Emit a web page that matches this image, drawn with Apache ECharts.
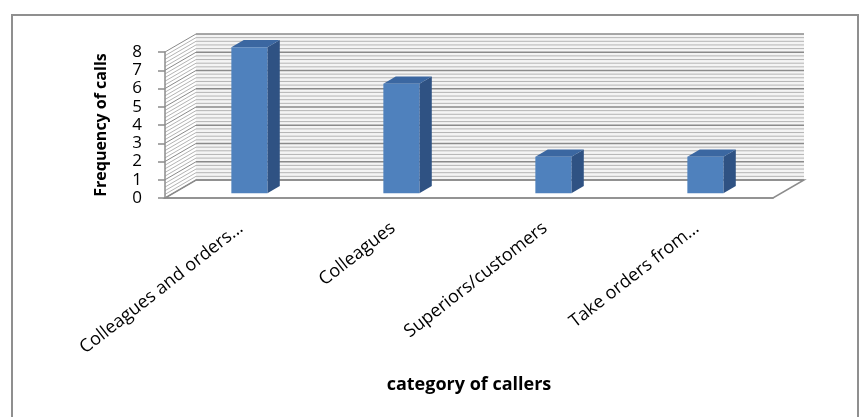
<!DOCTYPE html>
<html>
<head>
<meta charset="utf-8">
<script src="https://cdn.jsdelivr.net/npm/echarts@6/dist/echarts.min.js"></script>
<style>
  html, body { margin: 0; padding: 0; background: #ffffff; }
  #chart { width: 866px; height: 417px; }
</style>
</head>
<body>
<div id="chart"></div>
<script>
// Callers by category
const categories = ['Colleagues and orders…', 'Colleagues', 'Superiors/customers', 'Take orders from…'];
const callCounts = [8, 6, 2, 2];
const valueMax = 8;
const valueStep = 1;

// Pseudo-3D geometry (pixels / fractions of the depth)
const DX = 31, DY = -18;          // depth offset of the back wall
const BAR_FRONT = 0.27;           // bar front plane, fraction of depth
const BAR_BACK = 0.67;            // bar back plane, fraction of depth
const BAR_WIDTH = 0.237;          // fraction of the category band
const MINOR_STEP = 0.2;           // fine ruling on the walls

const FONT = '"Open Sans", "DejaVu Sans", sans-serif';
const GRID_STROKE = '#8c8c8c';

// Back wall, side wall and floor, placed from the grid rectangle and y scale
function wallsRenderItem(params, api) {
  const cs = params.coordSys;
  const x0 = cs.x, x1 = cs.x + cs.width;
  const yAt = v => api.coord([0, v])[1];
  const yb = yAt(0), yt = yAt(valueMax);
  const children = [];
  children.push({
    type: 'polygon',
    shape: { points: [[x0 + DX, yt + DY], [x1 + DX, yt + DY], [x1 + DX, yb + DY], [x0 + DX, yb + DY]] },
    style: { fill: '#f4f4f4' }
  });
  children.push({
    type: 'polygon',
    shape: { points: [[x0, yb], [x1, yb], [x1 + DX, yb + DY], [x0 + DX, yb + DY]] },
    style: { fill: '#ffffff', stroke: GRID_STROKE, lineWidth: 1.5 }
  });
  const n = Math.round(valueMax / MINOR_STEP);
  const perMajor = Math.round(valueStep / MINOR_STEP);
  for (let k = 0; k <= n; k++) {
    const v = k * MINOR_STEP;
    const major = k % perMajor === 0;
    const y = yAt(v);
    const stroke = major ? '#8a8a8a' : '#b4b4b4';
    children.push({
      type: 'line',
      shape: { x1: x0 + DX, y1: y + DY, x2: x1 + DX, y2: y + DY },
      style: { stroke: stroke, lineWidth: major ? 1.5 : 1 }
    });
    children.push({
      type: 'line',
      shape: { x1: x0, y1: y, x2: x0 + DX, y2: y + DY },
      style: { stroke: stroke, lineWidth: 1 }
    });
  }
  return { type: 'group', children: children };
}

// Box-shaped columns: front face, right side and top
function barRenderItem(params, api) {
  const i = api.value(0), v = api.value(1);
  const top = api.coord([i, v]);
  const base = api.coord([i, 0]);
  const band = api.size([1, 0])[0];
  const w = band * BAR_WIDTH;
  const fx = BAR_FRONT * DX, fy = BAR_FRONT * DY;
  const bx = (BAR_BACK - BAR_FRONT) * DX, by = (BAR_BACK - BAR_FRONT) * DY;
  const l = top[0] - w / 2 + fx, r = l + w;
  const yt = top[1] + fy, yb = base[1] + fy;
  return {
    type: 'group',
    children: [
      {
        type: 'polygon',
        shape: { points: [[r, yt], [r + bx, yt + by], [r + bx, yb + by], [r, yb]] },
        style: { fill: '#2f5283' }
      },
      {
        type: 'polygon',
        shape: { points: [[l, yt], [r, yt], [r + bx, yt + by], [l + bx, yt + by]] },
        style: { fill: '#3b67a1' }
      },
      {
        type: 'rect',
        shape: { x: l, y: yt, width: w, height: yb - yt },
        style: { fill: '#4f81bd' }
      }
    ]
  };
}

const chart = echarts.init(document.getElementById('chart'), null, { renderer: 'canvas' });
chart.setOption({
  animation: false,
  backgroundColor: '#ffffff',
  textStyle: { fontFamily: FONT },
  grid: { left: 165, right: 93, top: 52, bottom: 219, containLabel: false },
  graphic: [{
    type: 'rect',
    shape: { x: 12, y: 15, width: 846, height: 420 },
    style: { fill: 'none', stroke: '#8f8f8f', lineWidth: 2 },
    z: 0
  }],
  xAxis: {
    type: 'category',
    data: categories,
    z: 5,
    axisLine: { show: true, lineStyle: { color: GRID_STROKE, width: 1.5 } },
    axisTick: { show: false },
    axisLabel: {
      rotate: 38, interval: 0, margin: 28,
      fontSize: 18, color: '#000000', fontFamily: FONT
    },
    splitLine: { show: false },
    name: 'category of callers',
    nameLocation: 'middle',
    nameGap: 178,
    nameTextStyle: { fontSize: 18, fontWeight: 'bold', color: '#000000', fontFamily: FONT }
  },
  yAxis: {
    type: 'value',
    min: 0, max: valueMax, interval: valueStep,
    z: 5,
    axisLine: { show: true, lineStyle: { color: GRID_STROKE, width: 1.5 } },
    axisTick: { show: true, length: 7, lineStyle: { color: GRID_STROKE, width: 1.5 } },
    axisLabel: { fontSize: 17, color: '#000000', margin: 23, fontFamily: FONT },
    splitLine: { show: false },
    name: 'Frequency of calls',
    nameLocation: 'middle',
    nameGap: 56,
    nameTextStyle: { fontSize: 16, fontWeight: 'bold', color: '#000000', fontFamily: FONT }
  },
  series: [
    {
      type: 'custom',
      name: 'walls',
      z: 1,
      silent: true,
      renderItem: wallsRenderItem,
      data: [[0, 0]]
    },
    {
      type: 'custom',
      name: 'Frequency of calls',
      z: 3,
      renderItem: barRenderItem,
      encode: { x: 0, y: 1 },
      data: callCounts.map((v, i) => [i, v])
    }
  ]
});
</script>
</body>
</html>
